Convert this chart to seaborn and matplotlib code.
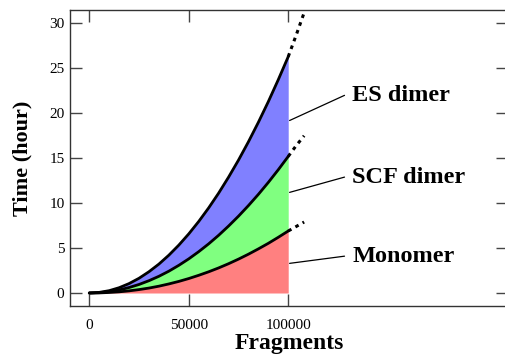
import numpy as np
import pandas as pd
import matplotlib
matplotlib.use('Agg')
import matplotlib.pyplot as plt
import seaborn as sns

# values (hours vs number of fragments)
fragments = [0, 5000, 10000, 15000, 20000, 25000, 30000, 35000, 40000, 45000, 50000,
             55000, 60000, 65000, 70000, 75000, 80000, 85000, 90000, 95000, 100000]
es_dimer = [0, 0.07, 0.26, 0.59, 1.05, 1.64, 2.37, 3.22, 4.21, 5.33, 6.58,
            7.96, 9.47, 11.11, 12.89, 14.79, 16.83, 19.0, 21.3, 23.74, 26.3]
scf_dimer = [0, 0.04, 0.15, 0.34, 0.61, 0.95, 1.37, 1.86, 2.43, 3.08, 3.80,
             4.60, 5.47, 6.42, 7.45, 8.55, 9.73, 10.98, 12.31, 13.72, 15.2]
monomer = [0, 0.01, 0.06, 0.13, 0.24, 0.38, 0.55, 0.76, 1.01, 1.29, 1.61,
           1.97, 2.36, 2.79, 3.26, 3.77, 4.32, 4.91, 5.53, 6.20, 6.9]

# dotted extrapolation beyond 100000
ext_fragments = [100000, 104000, 108000]
es_ext = [26.3, 28.7, 31.2]
scf_ext = [15.2, 16.4, 17.5]
mono_ext = [6.9, 7.4, 7.9]

labels = ['ES dimer', 'SCF dimer', 'Monomer']
label_y = [22.0, 12.9, 4.1]
pointer_y = [19.2, 11.2, 3.3]

x_ticks = [0, 50000, 100000]
y_ticks = [0, 5, 10, 15, 20, 25, 30]

sns.set_style('ticks')
plt.rcParams['font.family'] = ['Liberation Serif', 'DejaVu Serif']
plt.rcParams['text.color'] = 'black'
plt.rcParams['xtick.labelcolor'] = 'black'
plt.rcParams['ytick.labelcolor'] = 'black'
plt.rcParams['axes.labelcolor'] = 'black'

df = pd.DataFrame({'Fragments': fragments, 'ES dimer': es_dimer,
                   'SCF dimer': scf_dimer, 'Monomer': monomer})
ext = pd.DataFrame({'Fragments': ext_fragments, 'ES dimer': es_ext,
                    'SCF dimer': scf_ext, 'Monomer': mono_ext})

fig = plt.figure(figsize=(5.05, 3.57), dpi=100)
ax = fig.add_axes([0.1386, 0.1415, 0.8674, 0.8305])

# filled bands
ax.fill_between(df['Fragments'], 0, df['Monomer'], color='#ff8080', lw=0)
ax.fill_between(df['Fragments'], df['Monomer'], df['SCF dimer'], color='#80ff80', lw=0)
ax.fill_between(df['Fragments'], df['SCF dimer'], df['ES dimer'], color='#8080ff', lw=0)

for col in ['ES dimer', 'SCF dimer', 'Monomer']:
    sns.lineplot(data=df, x='Fragments', y=col, ax=ax, color='black', lw=2)
    sns.lineplot(data=ext, x='Fragments', y=col, ax=ax, color='black', lw=2.2,
                 linestyle=(0, (1.2, 1.5)))

# labels with pointer lines
for lab, ly, py in zip(labels, label_y, pointer_y):
    ax.plot([100700, 128300], [py, ly], color='black', lw=0.9)
    ax.text(132300, ly, lab, fontsize=17.5, fontweight='bold', va='center', ha='left',
            color='black')

ax.set_xlim(-9700, 210500)
ax.set_ylim(-1.5, 31.5)
ax.set_xticks(x_ticks)
ax.set_xticklabels([str(t) for t in x_ticks])
ax.set_yticks(y_ticks)

ax.tick_params(direction='in', length=8.5, width=1, color='#444444',
               top=True, right=True, labelsize=11, pad=4, labelcolor='black')
ax.tick_params(axis='x', pad=9)
for s in ax.spines.values():
    s.set_color('#333333')
    s.set_linewidth(1)

ax.set_xlabel('Fragments', fontsize=17, fontweight='bold', labelpad=1, color='black')
ax.set_ylabel('Time (hour)', fontsize=16, fontweight='bold', labelpad=12, color='black')

fig.savefig('out.png', dpi=100)
